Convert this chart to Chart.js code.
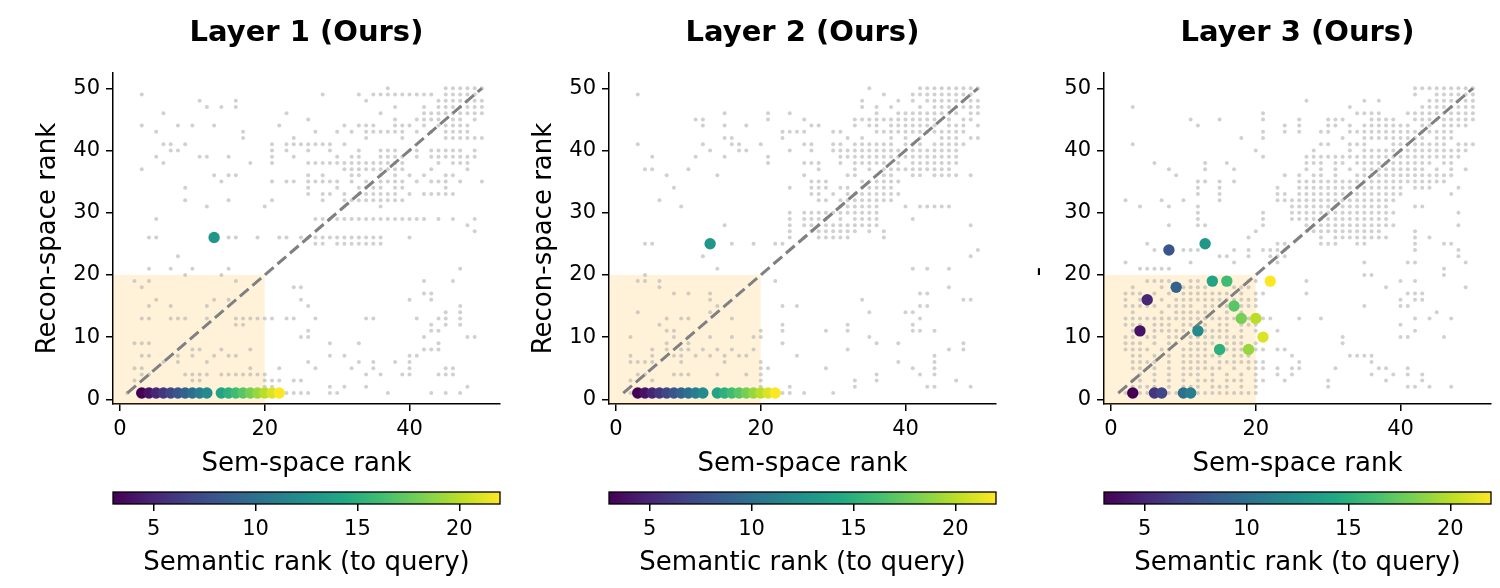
<!DOCTYPE html>
<html><head><meta charset="utf-8">
<script src="https://cdn.jsdelivr.net/npm/chart.js@4.4.0/dist/chart.umd.min.js"></script>
<style>
html,body{margin:0;padding:0;background:#fff;width:1500px;height:588px;overflow:hidden;position:relative;}
canvas{position:absolute;}
</style></head><body>
<script>
// ---------------- DATA ----------------
const panelTitles = ['Layer 1 (Ours)', 'Layer 2 (Ours)', 'Layer 3 (Ours)'];
const xAxisLabel = 'Sem-space rank';
const yAxisLabels = ['Recon-space rank', 'Recon-space rank', '-'];
const colorbarLabel = 'Semantic rank (to query)';
const xTickValues = [0, 20, 40];
const yTickValues = [0, 10, 20, 30, 40, 50];
const cbTickValues = [5, 10, 15, 20];

// highlighted queries: semantic rank (x) and recon-space rank (y) per layer
const semRank      = [3, 4, 5, 6, 7, 8, 9, 10, 11, 12, 13, 14, 15, 16, 17, 18, 19, 20, 21, 22];
const layer1Recon  = [1, 1, 1, 1, 1, 1, 1, 1, 1, 1, 26, 1, 1, 1, 1, 1, 1, 1, 1, 1];
const layer2Recon  = [1, 1, 1, 1, 1, 1, 1, 1, 1, 1, 25, 1, 1, 1, 1, 1, 1, 1, 1, 1];
const layer3Recon  = [1, 11, 16, 1, 1, 24, 18, 1, 1, 11, 25, 19, 8, 19, 15, 13, 8, 13, 10, 19];

// diagonal reference (y = x) and top-20 region
const diagX = [1, 50];
const diagY = [1, 50];
const topK = 20;

// background pairs: rows of [recon rank, [sem ranks...]]
const layer1Gray = [
  [50,[37,45,46,47,48,49,50]],
  [49,[3,28,33,35,36,37,38,39,40,41,42,43,45,46,47,48,49]],
  [48,[11,16,34,44,45,46,47,48,49,50]],
  [47,[12,14,16,38,42,44,45,46,47,48,49,50]],
  [46,[6,23,36,42,43,44,45,46,47,48,49,50]],
  [45,[26,38,41,42,43,44,46,47,49]],
  [44,[3,8,10,13,22,31,33,34,35,38,39,40,42,44,45,46,47,48]],
  [43,[5,17,27,30,32,34,35,36,37,38,39,41,43,45,46,47,48]],
  [42,[17,24,34,39,45,46,47,48,49,50]],
  [41,[6,7,9,21,23,24,25,26,27,28,29,31]],
  [40,[7,8,21,23,26,29,33,36,37,38,40,41,43,44,45,46,47,49]],
  [39,[5,11,12,15,21,24,30,32,33,36,37,38,39,41,43,44,45,46,47,48,49]],
  [38,[6,18,21,26,27,28,29,30,31,32,33,34,35,36,37,38,39,44,46,47,48]],
  [37,[3,31,32,33,34,35,36,37,38,39,43,48]],
  [36,[13,15,16,26,28,32,33,36,38,40,42,45,46]],
  [35,[14,21,23,24,26,27,28,29,30,32,34,36,37,38,39,41,43,44,45,47,50]],
  [34,[9,26,30,33,34,35,36,38,39,45]],
  [33,[26,28,29,31,33,34,35,36,37,38,40,42,43,44,45,46]],
  [32,[9,15,21,28,31,32,33,34,35,36,37,38,39]],
  [31,[12,20,36]],
  [29,[5,27,28,29,30,31,32,33,34,35,36,37,38,39,40,41,42,44,46,49]],
  [28,[48]],
  [27,[49]],
  [26,[4,5,15,16,19,22,23,25,26,27,28,29,30,31,32,33,34,35,36,40]],
  [25,[27,28,30,31,32,33,34,35,36]],
  [23,[8]],
  [21,[4,7,10,15,47]],
  [20,[9,14]],
  [19,[2,4,16,42,46]],
  [18,[3,24,25]],
  [17,[42,43]],
  [16,[5,13,15,25,40,43]],
  [15,[4,7,12,26,47]],
  [14,[45,47]],
  [13,[3,4,7,8,9,12,16,17,18,19,20,21,23,24,27,34,35,41,44,45,47]],
  [12,[16,17,43,45,47]],
  [11,[26,43,44]],
  [10,[25,26,42,48,49]],
  [9,[2,3,4,29,33,44]],
  [8,[10,11,14,18,42,43,44]],
  [7,[3,4,8,10,13,15,16,29,31,40,41]],
  [6,[6,8,12,26,33,35,38,40]],
  [5,[2,3,18,22,27,32,35,40,45,46]],
  [4,[3,4,9,10,11,12,14,15,16,17,18,19,20,34,36,39,40,44,45,46]],
  [3,[2,10,11,20,21,22,24,25]],
  [2,[20,21,29,31,34,48]],
  [1,[1,23,24,25,26,29,30,37,43,45,47]]
];
const layer2Gray = [
  [50,[35,42,43,44,45,46,47,48,49,50]],
  [49,[3,37,41,42,43,44,45,46,47,48,49]],
  [48,[34,39,41,43,44,45,46,47,48,49,50]],
  [47,[34,36,38,42,44,45,46,47,48,49,50]],
  [46,[15,21,24,36,39,40,41,42,43,44,45,46,47,49,50]],
  [45,[11,12,21,26,33,34,35,36,37,38,39,40,41,42,43,44,46,48,49]],
  [44,[12,15,18,27,28,33,35,36,38,39,40,41,42,43,44,46,47,48,50]],
  [43,[23,24,25,26,30,31,36,37,38,39,40,41,42,43,44,45,46,47,48]],
  [42,[15,16,23,32,34,38,40,42,45,46,47,49,50]],
  [41,[3,12,16,17,20,26,27,30,31,33,34,35,36,37,38,40,41,42,44,45,46,47,48]],
  [40,[13,17,18,24,27,30,31,32,33,34,35,36,37,38,39,40,41,42,43,44,45,46,47]],
  [39,[5,11,15,21,31,32,33,34,35,36,37,38,39,40,41,42,43,44,45,46,47]],
  [38,[21,26,27,28,31,33,34,35,36,37,39,41,42,43,44,45,46,47]],
  [37,[4,5,10,28,33,35,37,38,39,40,41,42,43,44,45,46]],
  [36,[7,14,26,32,33,37,38,41,42,44,45,46,47,49]],
  [35,[27,28,29,34,35,36,37,38,39]],
  [34,[8,24,27,28,29,31,32,34,35,36,37,38]],
  [33,[27,28,30,32,33,34,35,36,37,38,39]],
  [32,[6,28,29,31,32,33,34,35,36,37,38]],
  [31,[9,31,32,33,34,35,36,40,42,43,44,45,46]],
  [30,[24,26,27,28,29,30,31,32,33,34,35,36]],
  [29,[24,26,27,28,29,31,33,34,35,36,41]],
  [28,[15,24,26,27,28,29,30,31,32,33,34,35,36,49]],
  [27,[24,27,28,29,30,31,32,33,35,37]],
  [26,[24,26,28,29,30,31,32,37]],
  [25,[4,5,16,19,22,23]],
  [24,[50]],
  [23,[12,49]],
  [21,[14,41,43,46]],
  [20,[4]],
  [19,[3,4,6,22]],
  [18,[6,46]],
  [17,[8,10,13,42,43]],
  [16,[13,34,48,49]],
  [15,[14,23,25,42,43]],
  [14,[3,13,35,40,41]],
  [13,[7,9,10,16,42]],
  [12,[6,23,32,41]],
  [11,[7,8,20,23,29,32,41,42,44]],
  [10,[2,8,10,13,16,19,20,35]],
  [9,[7,10,23,36,39,48]],
  [8,[5,7,9,10,12,14,16,19,32,46,48]],
  [7,[2,5,8,9,11,13,15,17,18,25,44]],
  [6,[2,3,4,5,9,15,20,39,44]],
  [5,[20,21,29,41,44]],
  [4,[3,4,8,9,10,14,18,20,36,42,44]],
  [3,[2,5,20,33,36,47]],
  [2,[20,24,33,43,44,49]],
  [1,[2,23,24,26,30]]
];
const layer3Gray = [
  [50,[42,43,44,45,46,47,48,49,50]],
  [49,[42,45,46,47,48,49,50]],
  [48,[27,35,37,44,45,46,47,48,49,50]],
  [47,[3,33,43,44,45,46,47,48,49,50]],
  [46,[21,34,35,36,37,41,42,43,44,45,46,47,48,49,50]],
  [45,[11,15,21,26,30,31,32,36,37,38,39,42,43,44,45,46,47,48,49,50]],
  [44,[12,24,26,30,31,33,35,36,37,38,39,40,41,43,44,46,47,48,49]],
  [43,[21,24,26,29,30,33,34,35,36,37,38,39,40,41,42,43,44,45,46,47]],
  [42,[18,21,32,35,36,37,38,39,40,41,42,43,45,46,47]],
  [41,[3,29,30,33,34,35,39,40,41,42,43,44,45,46,48,49,50]],
  [40,[20,28,33,35,36,37,38,39,40,41,42,43,44,45,46,47,48,49]],
  [39,[21,27,28,29,30,31,32,33,34,35,36,37,38,39,40,41,42,43,44,45,46,47,48]],
  [38,[6,13,16,27,28,29,31,32,34,35,36,37,38,39,40,41,42,43,44,46,47]],
  [37,[8,13,17,27,29,31,33,35,36,37,38,39,40,41,42,43,45,47,49]],
  [36,[9,24,26,28,29,31,34,35,36,37,38,39,40,41,42,43,44,45,46,47]],
  [35,[12,13,15,17,26,27,28,29,30,31,32,33,34,35,36,37,38,39,40,41,42,43,44,45,46]],
  [34,[12,15,23,26,27,28,29,30,31,32,33,34,35,36,37,38,39,40,42,43,44,48]],
  [33,[12,15,23,24,26,27,28,29,30,31,32,33,34,35,36,37,38,39,40,47]],
  [32,[2,7,10,15,23,24,25,26,27,28,29,30,31,32,33,34,35,36,37,38,39]],
  [31,[4,8,12,25,26,27,28,29,30,31,32,33,34,35,36,37,38,42,43]],
  [30,[12,21,25,26,27,28,29,30,31,32,33,34,35,36,37,38,39,48]],
  [29,[12,21,25,26,27,28,29,30,31,32,33,34,35,36,37,38]],
  [28,[8,12,13,21,27,28,29,30,31,32,33,34,35,36,37,38,39,48]],
  [27,[20,27,28,29,30,31,32,33,34,35,36,37,42]],
  [26,[19,29,31,32,33,34,35,36,37,38,42,44]],
  [25,[5,23,24,29,30,31,34,35,42,46,47]],
  [24,[6,10,11,12,17,19,21,22,23,24,42,48]],
  [23,[15,16,19,22,23,24,48]],
  [22,[2,11,17,23,35,41,42,49]],
  [21,[4,5,6,7,8,46]],
  [20,[35,36,46]],
  [19,[5,6,7,8,11,12,19,20,27,40,42]],
  [18,[3,7,10,11,12,13,17,18,19,38,49]],
  [17,[2,3,4,6,8,10,11,12,13,14,15,16,18,20,21,27,41,42,43]],
  [16,[2,4,7,9,10,11,12,13,14,15,16,17,18,19,20,40,42,43]],
  [15,[2,3,4,5,6,8,9,10,11,13,14,15,16,18,19,20,35,40,41]],
  [14,[3,7,9,10,11,12,13,16,18,45]],
  [13,[2,3,4,5,6,7,8,9,10,11,12,13,14,15,16,17,19,21,22,26,29,42,44,47]],
  [12,[2,3,4,6,7,8,10,11,13,15,16,18,19,20,40]],
  [11,[3,6,7,8,9,10,13,14,15,16,18,20,23,42]],
  [10,[2,3,5,6,8,9,10,11,12,13,14,15,16,17,18,32,40,41,46]],
  [9,[2,3,4,6,8,9,11,12,13,14,16,17,18,20,32]],
  [8,[2,3,4,5,7,8,10,11,12,13,16,17,18,20,21,23,24]],
  [7,[3,4,6,8,10,11,12,13,14,15,17,18,19,25,33,34,35,36]],
  [6,[3,4,5,6,8,10,11,12,13,15,16,17,18,19,20,21,26,36]],
  [5,[3,4,6,8,10,11,12,13,14,15,17,19,20,21,23,25,26,31,37,38,41]],
  [4,[4,6,8,10,11,12,14,16,18,20,23,25,36,39,41,43]],
  [3,[3,4,6,8,10,12,13,14,16,17,18,20,21,24,30,38,43]],
  [2,[3,4,5,6,8,10,11,12,14,15,16,18,20,30,41,42,44,47]],
  [1,[2,4,5,8,9,12,13,14,15,16,17,18,19,20]]
];

// ---------------- STYLE / LAYOUT ----------------
const FONT = "'DejaVu Sans', 'Liberation Sans', sans-serif";
const viridisStops = ['#440154','#482475','#414487','#355f8d','#2a788e','#21918c','#22a884','#44bf70','#7ad151','#bddf26','#fde725'];
function hexRgb(h){return [parseInt(h.slice(1,3),16),parseInt(h.slice(3,5),16),parseInt(h.slice(5,7),16)];}
function viridis(t){
  t = Math.max(0, Math.min(1, t));
  const n = viridisStops.length - 1;
  const i = Math.min(n - 1, Math.floor(t * n));
  const f = t * n - i;
  const a = hexRgb(viridisStops[i]), b = hexRgb(viridisStops[i + 1]);
  return 'rgb(' + a.map((v, k) => Math.round(v + (b[k] - v) * f)).join(',') + ')';
}
const cbMin = Math.min(...semRank), cbMax = Math.max(...semRank);

const panelLeft = [113, 609, 1104];
const PLOT_W = 387, PLOT_TOP = 73, PLOT_BOTTOM = 404;
const Y_AXIS_W = 100, RIGHT_PAD = 13, PANEL_H = 480;
const X_MIN = -0.97, X_MAX = 52.5, Y_MIN = -0.76, Y_MAX = 52.46;
const TICK_SIZE = 21, LABEL_SIZE = 26;

const textPlugin = {
  id: 'panelText',
  afterDraw(chart, args, opts) {
    const ctx = chart.ctx, ca = chart.chartArea;
    (opts.items || []).forEach(it => {
      ctx.save();
      ctx.font = it.font;
      ctx.fillStyle = '#000';
      ctx.textAlign = 'center';
      ctx.textBaseline = 'alphabetic';
      if (it.rotate) {
        ctx.translate(ca.left + it.dx, it.cy != null ? it.cy : (ca.top + ca.bottom) / 2);
        ctx.rotate(-Math.PI / 2);
        ctx.fillText(it.text, 0, 0);
      } else {
        ctx.fillText(it.text, (ca.left + ca.right) / 2, it.y);
      }
      ctx.restore();
    });
  }
};
const boxPlugin = {
  id: 'topBox',
  beforeDatasetsDraw(chart, args, opts) {
    const {ctx, chartArea: ca, scales: {x, y}} = chart;
    const xr = x.getPixelForValue(opts.max), yt = y.getPixelForValue(opts.max);
    ctx.save();
    ctx.fillStyle = opts.color;
    ctx.fillRect(ca.left, yt, xr - ca.left, ca.bottom - yt);
    ctx.restore();
  }
};
const cbarPlugin = {
  id: 'cbar',
  beforeDatasetsDraw(chart, args, opts) {
    const {ctx, chartArea: ca, scales: {x}} = chart;
    const x0 = x.getPixelForValue(opts.min), x1 = x.getPixelForValue(opts.max);
    const g = ctx.createLinearGradient(x0, 0, x1, 0);
    viridisStops.forEach((c, i) => g.addColorStop(i / (viridisStops.length - 1), c));
    ctx.save();
    ctx.fillStyle = g;
    ctx.fillRect(x0, ca.top, x1 - x0, ca.bottom - ca.top);
    ctx.strokeStyle = '#000';
    ctx.lineWidth = 1.3;
    ctx.strokeRect(x0, ca.top, x1 - x0, ca.bottom - ca.top);
    ctx.restore();
  }
};

function axis(min, max, tickVals, fit) {
  return {
    type: 'linear', min, max,
    afterBuildTicks: s => { s.ticks = tickVals.map(v => ({value: v})); },
    afterFit: fit,
    grid: {display: true, drawOnChartArea: false, drawTicks: true, tickLength: 7, tickWidth: 1.5, tickColor: '#000', color: '#000', lineWidth: 1.5},
    border: {display: true, color: '#000', width: 1.5},
    ticks: {color: '#000', font: {family: FONT, size: TICK_SIZE}, padding: 6, maxRotation: 0, autoSkip: false, callback: v => String(v)}
  };
}

function makeCanvas(left, top, w, h) {
  const c = document.createElement('canvas');
  c.width = w; c.height = h;
  c.style.left = left + 'px'; c.style.top = top + 'px';
  c.style.width = w + 'px'; c.style.height = h + 'px';
  document.body.appendChild(c);
  return c;
}

const grayRows = [layer1Gray, layer2Gray, layer3Gray];
const reconRanks = [layer1Recon, layer2Recon, layer3Recon];

for (let p = 0; p < 3; p++) {
  const canvasW = Y_AXIS_W + PLOT_W + RIGHT_PAD;
  const cv = makeCanvas(panelLeft[p] - Y_AXIS_W, 0, canvasW, PANEL_H);
  const gray = [];
  grayRows[p].forEach(([yv, xs]) => xs.forEach(xv => gray.push({x: xv, y: yv})));
  const hi = semRank.map((r, i) => ({x: r, y: reconRanks[p][i]}));
  const items = [
    {text: panelTitles[p], font: 'bold 29px ' + FONT, y: 41},
    {text: xAxisLabel, font: LABEL_SIZE + 'px ' + FONT, y: 471},
    p === 2
      ? {text: yAxisLabels[p], font: LABEL_SIZE + 'px ' + FONT, rotate: true, dx: -58, cy: 271.5}
      : {text: yAxisLabels[p], font: LABEL_SIZE + 'px ' + FONT, rotate: true, dx: -58}
  ];
  new Chart(cv, {
    type: 'scatter',
    data: {
      datasets: [
        {data: hi, pointRadius: 5.7, pointBorderWidth: 0, backgroundColor: semRank.map(r => viridis((r - cbMin) / (cbMax - cbMin))), order: 0},
        {data: diagX.map((v, i) => ({x: v, y: diagY[i]})), showLine: true, borderColor: '#808080', borderWidth: 3, borderDash: [11.5, 5], pointRadius: 0, order: 1},
        {data: gray, pointRadius: 2, pointBorderWidth: 0, backgroundColor: 'rgba(170,170,170,0.55)', order: 2}
      ]
    },
    options: {
      responsive: false, animation: false, devicePixelRatio: 1, events: [],
      layout: {padding: {left: 0, top: PLOT_TOP, right: RIGHT_PAD, bottom: 0}},
      scales: {
        x: axis(X_MIN, X_MAX, xTickValues, s => { s.height = PANEL_H - PLOT_BOTTOM; }),
        y: axis(Y_MIN, Y_MAX, yTickValues, s => { s.width = Y_AXIS_W; })
      },
      plugins: {legend: {display: false}, tooltip: {enabled: false}, title: {display: false},
        topBox: {max: topK, color: 'rgba(255,165,0,0.15)'},
        panelText: {items}}
    },
    plugins: [boxPlugin, textPlugin]
  });

  // colorbar
  const CB_PAD = 30, CB_TOP = 480, CB_H = 108;
  const cb = makeCanvas(panelLeft[p] - CB_PAD, CB_TOP, PLOT_W + 2 * CB_PAD, CB_H);
  new Chart(cb, {
    type: 'scatter',
    data: {datasets: [{data: [], pointRadius: 0}]},
    options: {
      responsive: false, animation: false, devicePixelRatio: 1, events: [],
      layout: {padding: {left: CB_PAD, right: CB_PAD, top: 12, bottom: 0}},
      scales: {
        x: Object.assign(axis(cbMin, cbMax, cbTickValues, s => { s.height = CB_H - 24; }), {border: {display: false}}),
        y: {display: false, min: 0, max: 1}
      },
      plugins: {legend: {display: false}, tooltip: {enabled: false},
        cbar: {min: cbMin, max: cbMax},
        panelText: {items: [{text: colorbarLabel, font: LABEL_SIZE + 'px ' + FONT, y: 90}]}}
    },
    plugins: [cbarPlugin, textPlugin]
  });
}
</script>
</body></html>
